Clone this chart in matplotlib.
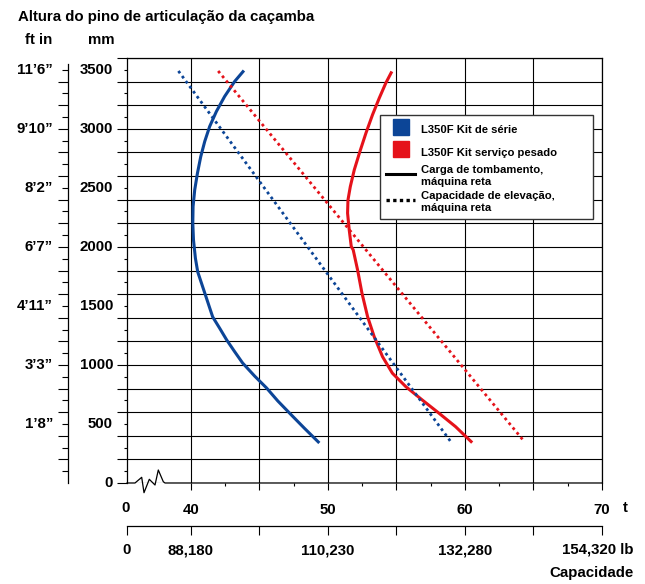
import matplotlib
matplotlib.use('Agg')
import numpy as np
import matplotlib.pyplot as plt
from matplotlib.lines import Line2D
from matplotlib.transforms import blended_transform_factory

plt.rcParams['font.family'] = ['Liberation Sans', 'DejaVu Sans']
plt.rcParams['font.weight'] = 'bold'

W, H = 645, 584
BLUE = '#0c4597'
RED = '#e5121a'
FS = 10.8

# capacity (t) against hinge pin height (mm)
std_tip_t = [43.88, 43.20, 42.47, 41.87, 41.38, 41.02, 40.73, 40.49, 40.29, 40.17,
             40.15, 40.20, 40.34, 40.51, 41.02, 41.60, 42.11, 42.62, 43.20, 43.78,
             44.65, 45.53, 46.35, 47.20, 48.29, 49.38]
std_tip_mm = [3494, 3401, 3274, 3147, 3020, 2893, 2765, 2625, 2483, 2342,
              2201, 2059, 1904, 1788, 1610, 1407, 1311, 1212, 1113, 1017,
              907, 805, 695, 593, 464, 339]
hd_tip_t = [54.67, 54.23, 53.75, 53.26, 52.78, 52.34, 51.93, 51.64, 51.47, 51.44,
            51.56, 51.71, 51.85, 52.17, 52.49, 52.90, 53.38, 53.99, 54.71, 55.69,
            56.89, 58.11, 59.32, 60.53]
hd_tip_mm = [3486, 3388, 3260, 3119, 2964, 2808, 2653, 2511, 2398, 2286,
             2144, 2003, 1975, 1805, 1608, 1409, 1240, 1070, 930, 816,
             703, 591, 477, 342]
std_lift_t = [39.1, 59.0]
std_lift_mm = [3490, 345]
hd_lift_t = [42.0, 64.2]
hd_lift_mm = [3490, 370]

mm_ticks = [0, 500, 1000, 1500, 2000, 2500, 3000, 3500]
ft_labels = ['', '1\u20198\u201d', '3\u20193\u201d', '4\u201911\u201d', '6\u20197\u201d',
             '8\u20192\u201d', '9\u201910\u201d', '11\u20196\u201d']
lb_labels = ['88,180', '110,230', '132,280']
legend_labels = ['L350F Kit de série', 'L350F Kit serviço pesado',
                 'Carga de tombamento,\nmáquina reta',
                 'Capacidade de elevação,\nmáquina reta']

X0 = 35.35  # where the broken axis starts ("0")


def fx(px):
    return px / W


def fy(py):
    return 1 - py / H


fig = plt.figure(figsize=(W / 100, H / 100), dpi=100)
ax = fig.add_axes([fx(127), fy(483), fx(602) - fx(127), fy(58) - fy(483)])
ax.set_xlim(X0, 70)
ax.set_ylim(0, 3600)

dots = (0, (1, 1.25))
ax.plot(std_tip_t, std_tip_mm, color=BLUE, lw=2.2, solid_capstyle='butt',
        solid_joinstyle='round', zorder=3)
ax.plot(hd_tip_t, hd_tip_mm, color=RED, lw=2.2, solid_capstyle='butt',
        solid_joinstyle='round', zorder=3)
ax.plot(std_lift_t, std_lift_mm, color=BLUE, lw=2.0, ls=dots, zorder=3)
ax.plot(hd_lift_t, hd_lift_mm, color=RED, lw=2.0, ls=dots, zorder=3)

# grid / ticks
ax.set_xticks(np.arange(40, 71, 5))
ax.set_xticklabels(['40', '', '50', '', '60', '', '70'])
ax.set_xticks(np.arange(42.5, 70, 5), minor=True)
ax.set_yticks(np.arange(0, 3601, 200))
ax.set_yticks(np.arange(100, 3600, 200), minor=True)
ax.set_yticklabels([])
ax.grid(which='major', color='black', lw=0.8)
ax.tick_params(axis='x', which='major', length=5.2, width=0.8, pad=9, labelsize=FS)
ax.tick_params(axis='x', which='minor', length=2.4, width=0.8)
ax.tick_params(axis='y', which='major', length=7.0, width=0.8)
ax.tick_params(axis='y', which='minor', length=2.4, width=0.8)
for s in ['left', 'top', 'right']:
    ax.spines[s].set_linewidth(0.9)
ax.spines['bottom'].set_visible(False)

# bottom spine with break mark
zx = [127, 135, 141.7, 144, 149.3, 155, 158.3, 163.3, 165, 602]
zy = [483, 483, 477.3, 492.7, 479.3, 485, 470, 481.7, 483, 483]
ax.plot([(x - 127) / 475 for x in zx], [(483 - y) / 425 for y in zy],
        transform=ax.transAxes, color='black', lw=0.9, clip_on=False)

# mm labels and ft labels
tr = blended_transform_factory(fig.transFigure, ax.transData)
for v, ft in zip(mm_ticks, ft_labels):
    ax.text(fx(113), v, str(v), transform=tr, ha='right', va='center', fontsize=FS)
    if ft:
        ax.text(fx(53), v, ft, transform=tr, ha='right', va='center', fontsize=FS)

# ft axis
ax3 = fig.add_axes([fx(68), fy(483), 0.0001, fy(58) - fy(483)])
ax3.set_ylim(0, 3600)
ax3.set_xticks([])
for s in ['top', 'right', 'bottom']:
    ax3.spines[s].set_visible(False)
ax3.spines['left'].set_bounds(0, 3545)
ax3.spines['left'].set_linewidth(0.9)
ax3.set_yticks(np.arange(200, 3500, 200))
ax3.set_yticks(np.arange(100, 3600, 200), minor=True)
ax3.set_yticklabels([])
ax3.tick_params(axis='y', which='major', length=7.0, width=0.8)
ax3.tick_params(axis='y', which='minor', length=4.3, width=0.8)
ax3.patch.set_visible(False)

# lb axis
ax2 = fig.add_axes([fx(127), fy(526), fx(602) - fx(127), 0.0001])
ax2.set_xlim(X0, 70)
ax2.set_yticks([])
for s in ['left', 'top', 'right']:
    ax2.spines[s].set_visible(False)
ax2.spines['bottom'].set_linewidth(0.9)
ax2.set_xticks([X0] + list(np.arange(40, 71, 5)))
ax2.set_xticklabels(['0', lb_labels[0], '', lb_labels[1], '', lb_labels[2], '', ''])
ax2.tick_params(axis='x', length=6.5, width=0.8, pad=6, labelsize=FS)
ax2.patch.set_visible(False)

# loose texts
fig.text(fx(126), fy(508), '0', ha='center', va='center', fontsize=FS)
fig.text(fx(625), fy(508), 't', ha='center', va='center', fontsize=FS)
fig.text(fx(634), fy(550), '154,320 lb', ha='right', va='center', fontsize=FS)
fig.text(fx(634), fy(573), 'Capacidade', ha='right', va='center', fontsize=FS)
fig.text(fx(18), fy(17), 'Altura do pino de articulação da caçamba', ha='left', va='center', fontsize=FS)
fig.text(fx(25), fy(40), 'ft in', ha='left', va='center', fontsize=FS)
fig.text(fx(88), fy(40), 'mm', ha='left', va='center', fontsize=FS)

handles = [
    Line2D([], [], marker='s', ls='none', color=BLUE, markersize=11),
    Line2D([], [], marker='s', ls='none', color=RED, markersize=11),
    Line2D([], [], color='black', lw=2.2),
    Line2D([], [], color='black', lw=2.4, ls=(0, (1, 1))),
]
leg = ax.legend(handles, legend_labels, loc='upper left', mode='expand',
                bbox_to_anchor=((380 - 127) / 475, (483 - 221) / 425, 213 / 475, 106 / 425),
                borderaxespad=0, fancybox=False, framealpha=1, edgecolor='#333333',
                prop={'weight': 'bold', 'size': 8.1}, handlelength=2.6, handleheight=2.0,
                handletextpad=0.5, labelspacing=0.42, borderpad=0.55)
leg.get_frame().set_linewidth(1.0)
leg.set_zorder(5)
for t in leg.get_texts():
    t.set_linespacing(1.15)

fig.savefig('out.png', dpi=100)
